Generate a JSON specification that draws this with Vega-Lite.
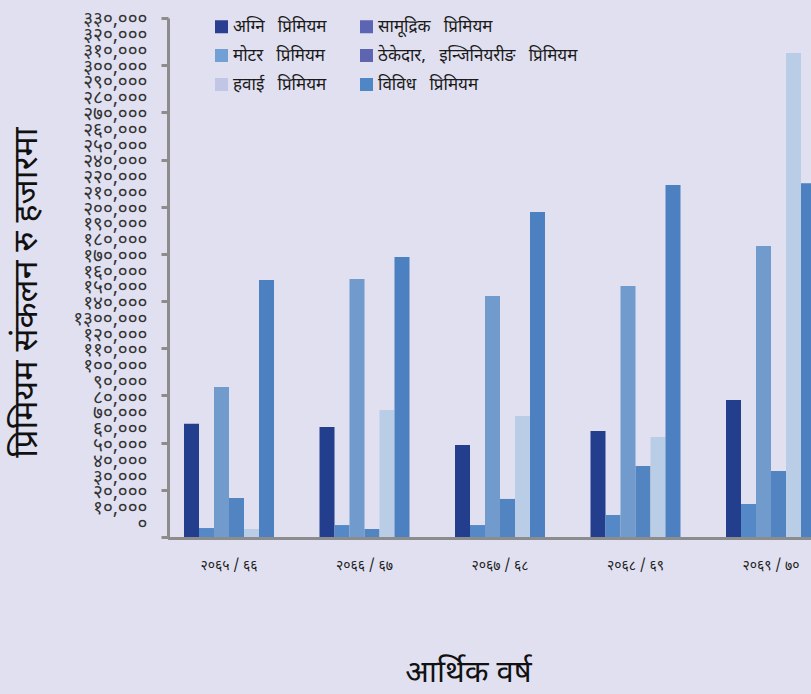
{
  "$schema": "https://vega.github.io/schema/vega-lite/v6.json",
  "width": 643,
  "height": 519,
  "autosize": {"type": "none"},
  "padding": {"left": 168, "top": 18, "right": 0, "bottom": 157},
  "background": "#e0e0f0",
  "config": {
    "view": {"stroke": null},
    "font": "Noto Sans Devanagari, Lohit Devanagari, Mangal, sans-serif"
  },
  "resolve": {"scale": {"y": "independent"}, "axis": {"y": "independent"}},
  "layer": [
    {
      "data": {
        "values": [
          {"year": "२०६५/६६", "type": "अग्नि प्रिमियम", "value": 72000},
          {"year": "२०६५/६६", "type": "सामूद्रिक प्रिमियम", "value": 5700},
          {"year": "२०६५/६६", "type": "मोटर प्रिमियम", "value": 95400},
          {"year": "२०६५/६६", "type": "ठेकेदार, इन्जिनियरीङ प्रिमियम", "value": 24800},
          {"year": "२०६५/६६", "type": "हवाई प्रिमियम", "value": 5100},
          {"year": "२०६५/६६", "type": "विविध प्रिमियम", "value": 163400},
          {"year": "२०६६/६७", "type": "अग्नि प्रिमियम", "value": 69900},
          {"year": "२०६६/६७", "type": "सामूद्रिक प्रिमियम", "value": 7600},
          {"year": "२०६६/६७", "type": "मोटर प्रिमियम", "value": 164000},
          {"year": "२०६६/६७", "type": "ठेकेदार, इन्जिनियरीङ प्रिमियम", "value": 5100},
          {"year": "२०६६/६७", "type": "हवाई प्रिमियम", "value": 80800},
          {"year": "२०६६/६७", "type": "विविध प्रिमियम", "value": 178000},
          {"year": "२०६७/६८", "type": "अग्नि प्रिमियम", "value": 58500},
          {"year": "२०६७/६८", "type": "सामूद्रिक प्रिमियम", "value": 7600},
          {"year": "२०६७/६८", "type": "मोटर प्रिमियम", "value": 153200},
          {"year": "२०६७/६८", "type": "ठेकेदार, इन्जिनियरीङ प्रिमियम", "value": 24200},
          {"year": "२०६७/६८", "type": "हवाई प्रिमियम", "value": 77000},
          {"year": "२०६७/६८", "type": "विविध प्रिमियम", "value": 206600},
          {"year": "२०६८/६९", "type": "अग्नि प्रिमियम", "value": 67400},
          {"year": "२०६८/६९", "type": "सामूद्रिक प्रिमियम", "value": 14000},
          {"year": "२०६८/६९", "type": "मोटर प्रिमियम", "value": 159600},
          {"year": "२०६८/६९", "type": "ठेकेदार, इन्जिनियरीङ प्रिमियम", "value": 45100},
          {"year": "२०६८/६९", "type": "हवाई प्रिमियम", "value": 63600},
          {"year": "२०६८/६९", "type": "विविध प्रिमियम", "value": 223800},
          {"year": "२०६९/७०", "type": "अग्नि प्रिमियम", "value": 87100},
          {"year": "२०६९/७०", "type": "सामूद्रिक प्रिमियम", "value": 21000},
          {"year": "२०६९/७०", "type": "मोटर प्रिमियम", "value": 185000},
          {"year": "२०६९/७०", "type": "ठेकेदार, इन्जिनियरीङ प्रिमियम", "value": 42000},
          {"year": "२०६९/७०", "type": "हवाई प्रिमियम", "value": 307700},
          {"year": "२०६९/७०", "type": "विविध प्रिमियम", "value": 225000}
        ]
      },
      "resolve": {"scale": {"color": "independent"}, "legend": {"color": "independent"}},
      "layer": [
        {
          "mark": {"type": "bar"},
          "encoding": {
            "x": {
              "field": "year",
              "type": "nominal",
              "sort": null,
              "scale": {"range": [1, 663], "paddingInner": 0.1144, "paddingOuter": 0},
              "axis": {
                "domain": false,
                "ticks": false,
                "tickSize": 0,
                "labelAngle": 0,
                "labelPadding": 21,
                "labelFontSize": 14,
                "labelColor": "#222222",
                "labelExpr": "replace(datum.label, '/', ' / ')",
                "title": "आर्थिक वर्ष",
                "titleFontSize": 31,
                "titleFontWeight": "normal",
                "titleColor": "#111111",
                "titleX": 300,
                "titleY": 135,
                "titleAlign": "center",
                "titleBaseline": "middle"
              }
            },
            "xOffset": {
              "field": "type",
              "type": "nominal",
              "sort": null,
              "scale": {"paddingInner": 0, "paddingOuter": 1}
            },
            "y": {
              "field": "value",
              "type": "quantitative",
              "scale": {"domain": [0, 330000], "nice": false, "zero": true},
              "axis": {
                "values": [0, 15000, 30000, 45000, 60000, 75000, 90000, 105000, 120000, 135000, 150000, 165000, 180000, 195000, 210000, 225000, 240000, 255000, 270000, 285000, 300000, 315000, 330000],
                "labels": false,
                "grid": false,
                "tickSize": 7,
                "tickWidth": 3,
                "tickColor": "#8c8c8c",
                "domainWidth": 3,
                "domainColor": "#8c8c8c",
                "title": "प्रिमियम संकलन रु हजारमा",
                "titleFontSize": 34,
                "titleFontWeight": "normal",
                "titleColor": "#111111",
                "titleAngle": 270,
                "titleX": -142,
                "titleY": 274,
                "titleAlign": "center",
                "titleBaseline": "middle"
              }
            },
            "color": {
              "field": "type",
              "type": "nominal",
              "scale": {
                "domain": ["अग्नि प्रिमियम", "सामूद्रिक प्रिमियम", "मोटर प्रिमियम", "ठेकेदार, इन्जिनियरीङ प्रिमियम", "हवाई प्रिमियम", "विविध प्रिमियम"],
                "range": ["#233e8d", "#5588c6", "#729bcd", "#5284c2", "#bacde6", "#4c80c1"]
              },
              "legend": null
            }
          }
        },
        {
          "mark": {"type": "rule", "color": "#8c8c8c", "strokeWidth": 3, "yOffset": 1.5},
          "encoding": {"y": {"datum": 0}}
        },
        {
          "mark": {"type": "bar", "opacity": 0},
          "encoding": {
            "color": {
              "field": "type",
              "type": "nominal",
              "scale": {
                "domain": ["अग्नि प्रिमियम", "मोटर प्रिमियम", "हवाई प्रिमियम", "सामूद्रिक प्रिमियम", "ठेकेदार, इन्जिनियरीङ प्रिमियम", "विविध प्रिमियम"],
                "range": ["#2a3f8f", "#72a0d4", "#c2c6e6", "#5b65b1", "#5e64b0", "#4f86c6"]
              },
              "legend": {
                "title": null,
                "orient": "none",
                "legendX": 45,
                "legendY": 0,
                "columns": 2,
                "gridAlign": "each",
                "symbolType": "square",
                "symbolSize": 169,
                "symbolStrokeWidth": 0,
                "symbolOpacity": 1,
                "labelFontSize": 17,
                "labelColor": "#1a1a1a",
                "labelOffset": 3,
                "labelLimit": 400,
                "rowPadding": 11,
                "columnPadding": 31,
                "labelExpr": "replace(datum.label, regexp(' ', 'g'), '\u00a0\u00a0 ')"
              }
            }
          }
        }
      ]
    },
    {
      "data": {"values": [{"k": 0}, {"k": 32}]},
      "mark": {"type": "point", "opacity": 0},
      "encoding": {
        "y": {
          "field": "k",
          "type": "quantitative",
          "scale": {"domain": [-0.87, 32.06], "nice": false, "zero": false},
          "axis": {
            "orient": "left",
            "values": [0, 1, 2, 3, 4, 5, 6, 7, 8, 9, 10, 11, 12, 13, 14, 15, 16, 17, 18, 19, 20, 21, 22, 23, 24, 25, 26, 27, 28, 29, 30, 31, 32],
            "labelExpr": "['०','१०,०००','२०,०००','३०,०००','४०,०००','५०,०००','६०,०००','७०,०००','८०,०००','९०,०००','१००,०००','११०,०००','१२०,०००','१३००,०००','१४०,०००','१५०,०००','१६०,०००','१७०,०००','१८०,०००','१९०,०००','२००,०००','२१०,०००','२२०,०००','२४०,०००','२५०,०००','२६०,०००','२७०,०००','२८०,०००','२९०,०००','३००,०००','३१०,०००','३२०,०००','३३०,०००'][datum.value]",
            "domain": false,
            "ticks": false,
            "tickSize": 0,
            "grid": false,
            "labelPadding": 21,
            "labelFontSize": 19,
            "labelColor": "#333333",
            "labelBaseline": "middle",
            "labelOverlap": false,
            "title": null
          }
        }
      }
    }
  ]
}
